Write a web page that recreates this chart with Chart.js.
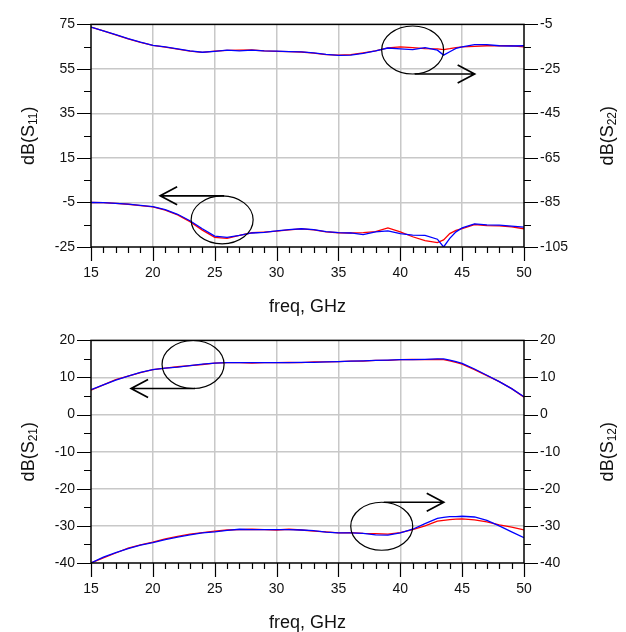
<!DOCTYPE html>
<html>
<head>
<meta charset="utf-8">
<script src="https://cdn.jsdelivr.net/npm/chart.js@4.4.1/dist/chart.umd.min.js"></script>
<style>
  html, body { margin: 0; padding: 0; background: #fff; }
  canvas { display: block; }
</style>
</head>
<body>
<canvas id="topPanel" width="626" height="316"></canvas>
<canvas id="bottomPanel" width="626" height="316"></canvas>
<script>
// frequency points, GHz
const freqGHz = [15,16,17,18,19,20,21,22,23,24,25,26,27,28,29,30,31,32,33,34,
                 35,36,37,38,39,40,41,42,43,43.5,44,44.5,45,46,47,48,49,50];

// top panel: S11 (left axis) and S22 (right axis), dB
const s11Sim  = [-5.0,-5.1,-5.4,-5.7,-6.3,-6.9,-8.2,-10.3,-13.2,-16.8,
                 -20.1,-20.7,-19.8,-18.7,-18.4,-17.8,-17.2,-16.8,-17.2,-18.1,
                 -18.5,-18.7,-19.4,-18.2,-17.8,-19.0,-19.7,-19.8,-21.5,-25.0,
                 -21.1,-18.2,-16.4,-14.6,-15.1,-15.2,-15.6,-16.1];
const s11Meas = [-5.0,-5.1,-5.4,-5.8,-6.4,-7.0,-8.4,-10.6,-13.6,-17.4,
                 -20.7,-21.1,-19.8,-18.6,-18.3,-17.9,-17.3,-16.9,-17.3,-18.2,
                 -18.6,-18.7,-18.5,-18.1,-16.4,-18.2,-20.4,-22.1,-23.0,-21.8,
                 -19.0,-17.5,-16.8,-14.9,-15.4,-15.5,-16.0,-16.8];
const s22Sim  = [-6.2,-7.9,-9.6,-11.4,-13.0,-14.4,-15.1,-16.0,-16.9,-17.5,
                 -17.1,-16.6,-16.9,-16.6,-16.9,-17.0,-17.2,-17.3,-17.8,-18.5,
                 -18.9,-18.8,-18.0,-16.9,-15.6,-16.0,-16.3,-15.4,-16.6,-18.8,
                 -17.3,-15.8,-15.1,-14.1,-14.1,-14.6,-14.7,-14.6];
const s22Meas = [-6.2,-7.9,-9.7,-11.5,-13.1,-14.4,-15.2,-16.1,-17.0,-17.6,
                 -17.0,-16.7,-16.6,-16.5,-16.9,-17.1,-17.2,-17.4,-17.9,-18.6,
                 -18.8,-18.6,-17.8,-16.9,-15.5,-15.1,-15.4,-15.9,-16.0,-16.3,
                 -15.9,-15.4,-15.1,-14.9,-14.6,-14.6,-14.6,-15.1];

// bottom panel: S21 (left axis) and S12 (right axis), dB
const s21Sim  = [6.7,8.0,9.3,10.4,11.4,12.1,12.5,12.8,13.2,13.6,
                 13.9,14.0,14.0,14.0,14.0,14.0,14.0,14.1,14.1,14.2,
                 14.3,14.4,14.5,14.6,14.7,14.8,14.8,14.9,15.0,15.0,
                 14.7,14.3,13.8,12.3,10.6,8.9,7.0,4.8];
const s21Meas = [6.6,8.0,9.4,10.4,11.3,12.1,12.5,12.9,13.2,13.5,
                 13.9,14.0,14.0,13.9,14.0,14.0,14.1,14.0,14.2,14.2,
                 14.3,14.4,14.4,14.6,14.6,14.8,14.9,14.8,14.9,14.8,
                 14.5,14.1,13.6,12.1,10.5,8.9,7.0,4.7];
const s12Sim  = [-40.0,-38.4,-37.2,-36.1,-35.2,-34.5,-33.7,-33.0,-32.4,-31.9,
                 -31.6,-31.2,-30.9,-31.0,-31.0,-31.0,-31.0,-31.1,-31.3,-31.7,
                 -31.9,-31.9,-32.0,-32.4,-32.5,-31.9,-30.9,-29.4,-28.0,-27.7,
                 -27.5,-27.5,-27.4,-27.6,-28.5,-30.0,-31.6,-33.2];
const s12Meas = [-40.0,-38.6,-37.3,-36.0,-35.1,-34.4,-33.5,-32.8,-32.2,-31.8,
                 -31.4,-31.1,-31.0,-30.9,-31.0,-31.1,-30.9,-31.1,-31.4,-31.6,
                 -31.9,-31.8,-32.0,-32.1,-32.2,-31.8,-31.0,-30.0,-28.7,-28.5,
                 -28.3,-28.2,-28.1,-28.4,-28.9,-29.7,-30.3,-31.1];

// labelled ticks
const freqTicks = [15,20,25,30,35,40,45,50];
const s11Ticks  = [-25,-5,15,35,55,75];
const s22Ticks  = [-105,-85,-65,-45,-25,-5];
const s21Ticks  = [-40,-30,-20,-10,0,10,20];
const s12Ticks  = [-40,-30,-20,-10,0,10,20];

const FONT = '"Liberation Sans", Arial, sans-serif';
const GRID = 'rgb(200,200,200)';
const INK  = '#111';

const pts = arr => freqGHz.map((f, i) => ({ x: f, y: arr[i] }));

function subLabel(ctx, cx, cy, parts, rotate) {
  ctx.save();
  ctx.translate(cx, cy);
  if (rotate) ctx.rotate(-Math.PI / 2);
  let w = 0;
  parts.forEach(p => {
    ctx.font = (p.sub ? '12px ' : '18px ') + FONT;
    p.w = ctx.measureText(p.t).width;
    w += p.w;
  });
  let x = -w / 2;
  ctx.fillStyle = INK;
  ctx.textBaseline = 'alphabetic';
  ctx.textAlign = 'left';
  parts.forEach(p => {
    ctx.font = (p.sub ? '12px ' : '18px ') + FONT;
    ctx.fillText(p.t, x, p.sub ? 10 : 6.5);
    x += p.w;
  });
  ctx.restore();
}

const panelDecor = {
  id: 'panelDecor',
  afterDraw(chart, args, o) {
    const { ctx, chartArea: a, scales } = chart;
    ctx.save();
    ctx.strokeStyle = '#000';

    // frame
    ctx.lineWidth = 1.5;
    ctx.strokeRect(a.left, a.top, a.right - a.left, a.bottom - a.top);

    // tick marks
    ctx.lineWidth = 1.2;
    ctx.beginPath();
    scales.x.ticks.forEach(t => {
      const p = Math.round(scales.x.getPixelForValue(t.value)) + 0.5;
      const len = freqTicks.includes(t.value) ? 14 : 6;
      ctx.moveTo(p, a.bottom); ctx.lineTo(p, a.bottom + len);
    });
    scales.y.ticks.forEach(t => {
      const p = Math.round(scales.y.getPixelForValue(t.value)) + 0.5;
      const len = o.leftTicks.includes(t.value) ? 14 : 7;
      ctx.moveTo(a.left, p); ctx.lineTo(a.left - len, p);
    });
    scales.y2.ticks.forEach(t => {
      const p = Math.round(scales.y2.getPixelForValue(t.value)) + 0.5;
      const len = o.rightTicks.includes(t.value) ? 14 : 7;
      ctx.moveTo(a.right, p); ctx.lineTo(a.right + len, p);
    });
    ctx.stroke();

    // axis titles
    const midY = (a.top + a.bottom) / 2;
    subLabel(ctx, 27, midY, [{ t: 'dB(S' }, { t: o.leftSub, sub: true }, { t: ')' }], true);
    subLabel(ctx, 606, midY, [{ t: 'dB(S' }, { t: o.rightSub, sub: true }, { t: ')' }], true);
    ctx.font = '18px ' + FONT;
    ctx.fillStyle = INK;
    ctx.textAlign = 'center';
    ctx.textBaseline = 'middle';
    ctx.fillText('freq, GHz', (a.left + a.right) / 2, a.bottom + 60);

    // callout ellipses with arrows
    o.callouts.forEach(c => {
      const cx = scales.x.getPixelForValue(c.f);
      const cy = scales.y.getPixelForValue(c.v);
      const rx = 31, ry = 24;
      ctx.lineWidth = 1.2;
      ctx.beginPath();
      ctx.ellipse(cx, cy, rx, ry, 0, 0, Math.PI * 2);
      ctx.stroke();
      const ay = c.side === 'top' ? cy - ry : cy + ry;
      const tip = cx + c.dir * 62;
      ctx.lineWidth = 1.7;
      ctx.beginPath();
      ctx.moveTo(cx + 2, ay); ctx.lineTo(tip, ay);
      ctx.moveTo(tip - c.dir * 17, ay - 9); ctx.lineTo(tip, ay); ctx.lineTo(tip - c.dir * 17, ay + 9);
      ctx.stroke();
    });
    ctx.restore();
  }
};

function makePanel(id, cfg) {
  const yScale = (min, max, step, labels, pos, grid) => ({
    type: 'linear', position: pos, min, max,
    afterFit: s => { s.width = pos === 'left' ? 91 : 102; },
    border: { display: false },
    grid: {
      display: grid, drawTicks: false, lineWidth: 1.5,
      color: c => (labels.includes(c.tick.value) && c.tick.value !== min && c.tick.value !== max) ? GRID : 'rgba(0,0,0,0)'
    },
    ticks: {
      stepSize: step, autoSkip: false, padding: 16, color: INK,
      font: { family: FONT, size: 14 },
      callback: v => labels.includes(v) ? String(v) : ''
    }
  });

  new Chart(document.getElementById(id), {
    type: 'line',
    data: {
      datasets: [
        { data: pts(cfg.leftSim),   yAxisID: 'y',  borderColor: '#0000ff' },
        { data: pts(cfg.leftMeas),  yAxisID: 'y',  borderColor: '#ff0000' },
        { data: pts(cfg.rightSim),  yAxisID: 'y2', borderColor: '#0000ff' },
        { data: pts(cfg.rightMeas), yAxisID: 'y2', borderColor: '#ff0000' }
      ].map(d => Object.assign(d, { borderWidth: 1.3, pointRadius: 0, tension: 0, fill: false }))
    },
    options: {
      responsive: false,
      animation: false,
      layout: { padding: { top: 17, left: 0, right: 0, bottom: 0 } },
      plugins: {
        legend: { display: false },
        tooltip: { enabled: false },
        panelDecor: {
          leftTicks: cfg.leftTicks, rightTicks: cfg.rightTicks,
          leftSub: cfg.leftSub, rightSub: cfg.rightSub,
          callouts: cfg.callouts
        }
      },
      scales: {
        x: {
          type: 'linear', min: 15, max: 50,
          afterFit: s => { s.height = 69; },
          border: { display: false },
          grid: {
            drawTicks: false, lineWidth: 1.5,
            color: c => (freqTicks.includes(c.tick.value) && c.tick.value !== 15 && c.tick.value !== 50) ? GRID : 'rgba(0,0,0,0)'
          },
          ticks: {
            stepSize: 1, autoSkip: false, maxRotation: 0, padding: 18, color: INK,
            font: { family: FONT, size: 14 },
            callback: v => freqTicks.includes(v) ? String(v) : ''
          }
        },
        y:  yScale(cfg.leftMin, cfg.leftMax, cfg.minor, cfg.leftTicks, 'left', true),
        y2: yScale(cfg.rightMin, cfg.rightMax, cfg.minor, cfg.rightTicks, 'right', false)
      }
    },
    plugins: [panelDecor]
  });
}

makePanel('topPanel', {
  leftSim: s11Sim, leftMeas: s11Meas, rightSim: s22Sim, rightMeas: s22Meas,
  leftMin: -25, leftMax: 75, rightMin: -105, rightMax: -5, minor: 10,
  leftTicks: s11Ticks, rightTicks: s22Ticks, leftSub: '11', rightSub: '22',
  callouts: [
    { f: 25.6, v: -12.8, side: 'top', dir: -1 },
    { f: 41.0, v: 63.5, side: 'bottom', dir: 1 }
  ]
});

makePanel('bottomPanel', {
  leftSim: s21Sim, leftMeas: s21Meas, rightSim: s12Sim, rightMeas: s12Meas,
  leftMin: -40, leftMax: 20, rightMin: -40, rightMax: 20, minor: 5,
  leftTicks: s21Ticks, rightTicks: s12Ticks, leftSub: '21', rightSub: '12',
  callouts: [
    { f: 23.25, v: 13.5, side: 'bottom', dir: -1 },
    { f: 38.5, v: -30.1, side: 'top', dir: 1 }
  ]
});
</script>
</body>
</html>
